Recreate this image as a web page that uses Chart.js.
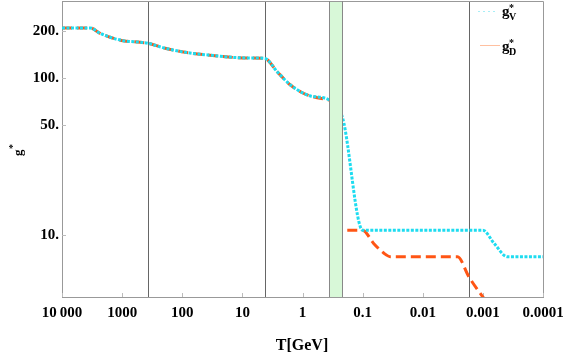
<!DOCTYPE html>
<html>
<head>
<meta charset="utf-8">
<script src="https://cdn.jsdelivr.net/npm/chart.js@4/dist/chart.umd.min.js"></script>
<style>
  html, body { margin: 0; padding: 0; background: #fff; }
  #wrap { width: 565px; height: 356px; }
</style>
</head>
<body>
<div id="wrap"><canvas id="myChart" width="565" height="356"></canvas></div>
<script>
// g*_V (cyan, dotted)
const tempV = [10000, 3415, 2327, 1585, 962, 501, 373, 192, 89, 26.1, 14.1, 7.36, 4.25, 2.64, 1.585, 1.08, 0.736, 0.36, 0.215, 0.1, 0.001, 0.00065, 0.00039, 0.0001];
const gV    = [210,   210,  194,  183,  174, 170, 167.6, 155.6, 146.6, 139, 136, 134.9, 134, 110.2, 90.6, 82.1, 77.1, 72.6, 55.7, 10.7, 10.7, 8.8, 7.23, 7.23];

// g*_D (orange, dashed) - null breaks the line across the transition
const tempD = [10000, 3415, 2327, 1585, 962, 501, 373, 192, 89, 26.1, 14.1, 7.36, 4.25, 2.64, 1.585, 1.08, 0.736, 0.36, 0.25, 0.18, 0.1, 0.0656, 0.0447, 0.0341, 0.00264, 0.00171, 0.00101, 0.0009];
const gD    = [210,   210,  194,  183,  174, 170, 167.6, 155.6, 146.6, 139, 136, 134.9, 134, 110.2, 90.6, 82.1, 77.1, 72.6, null, 10.7, 10.7, 8.8, 7.64, 7.23, 7.23, 5.38, 4.02, 3.8];

const xTicks = [10000, 1000, 100, 10, 1, 0.1, 0.01, 0.001, 0.0001];
const xTickLabels = ['10\u2009000', '1000', '100', '10', '1', '0.1', '0.01', '0.001', '0.0001'];
const yTicks = [10, 50, 100, 200];
const yTickLabels = ['10.', '50.', '100.', '200.'];

const vLines = [373, 4.25, 0.00171];
const band = [0.218, 0.359];

const serif = '"Liberation Serif", "DejaVu Serif", serif';

function pts(xs, ys) {
  return xs.map((x, i) => ({ x: x, y: ys[i] }));
}

const decor = {
  id: 'decor',
  beforeDatasetsDraw(chart) {
    const { ctx, chartArea: a, scales } = chart;
    ctx.save();
    ctx.strokeStyle = '#666';
    ctx.lineWidth = 1;
    vLines.forEach(t => {
      const x = Math.round(scales.x.getPixelForValue(t)) + 0.5;
      ctx.beginPath(); ctx.moveTo(x, a.top); ctx.lineTo(x, a.bottom); ctx.stroke();
    });
    // frame top/right
    ctx.strokeStyle = '#999';
    ctx.beginPath();
    ctx.moveTo(a.left, a.top + 0.5); ctx.lineTo(a.right + 0.5, a.top + 0.5); ctx.lineTo(a.right + 0.5, a.bottom);
    ctx.stroke();
    // inner tick marks
    ctx.strokeStyle = '#bbb';
    xTicks.forEach(t => {
      const x = Math.round(scales.x.getPixelForValue(t)) + 0.5;
      ctx.beginPath(); ctx.moveTo(x, a.bottom); ctx.lineTo(x, a.bottom - 4); ctx.stroke();
    });
    yTicks.forEach(v => {
      const y = Math.round(scales.y.getPixelForValue(v)) + 0.5;
      ctx.beginPath(); ctx.moveTo(a.left, y); ctx.lineTo(a.left + 4, y); ctx.stroke();
    });
    ctx.restore();
  },
  afterDatasetsDraw(chart) {
    const { ctx, chartArea: a, scales } = chart;
    ctx.save();
    const x1 = Math.round(scales.x.getPixelForValue(band[1])) + 0.5;
    const x2 = Math.round(scales.x.getPixelForValue(band[0])) + 0.5;
    ctx.fillStyle = '#d8f8d8';
    ctx.fillRect(x1, a.top + 1, x2 - x1, a.bottom - a.top - 1);
    ctx.strokeStyle = '#888';
    ctx.lineWidth = 1;
    [x1, x2].forEach(x => {
      ctx.beginPath(); ctx.moveTo(x, a.top); ctx.lineTo(x, a.bottom); ctx.stroke();
    });

    // legend
    ctx.lineWidth = 1;
    ctx.strokeStyle = '#a8eef6';
    ctx.setLineDash([2, 3]);
    ctx.beginPath(); ctx.moveTo(478, 11.5); ctx.lineTo(498, 11.5); ctx.stroke();
    ctx.setLineDash([]);
    ctx.strokeStyle = '#ffc0a0';
    ctx.beginPath(); ctx.moveTo(480, 45.5); ctx.lineTo(500, 45.5); ctx.stroke();

    ctx.fillStyle = '#000';
    ctx.textAlign = 'left';
    ctx.textBaseline = 'alphabetic';
    [['V', 16], ['D', 51]].forEach(([sub, base]) => {
      ctx.font = 'bold 15px ' + serif;
      ctx.fillText('g', 502, base);
      ctx.font = 'bold 10px ' + serif;
      ctx.fillText('*', 509, base - 5);
      ctx.fillText(sub, 509, base + 4);
    });

    // axis titles
    ctx.font = 'bold 16px ' + serif;
    ctx.textAlign = 'center';
    ctx.textBaseline = 'middle';
    ctx.fillText('T[GeV]', 302, 346);

    ctx.translate(19, 152);
    ctx.rotate(-Math.PI / 2);
    ctx.textAlign = 'left';
    ctx.textBaseline = 'alphabetic';
    ctx.font = 'bold 13px ' + serif;
    ctx.fillText('g', -4, 3);
    ctx.font = 'bold 10px ' + serif;
    ctx.fillText('*', 3, -3);
    ctx.restore();
  }
};

const data = {
  datasets: [{
    label: 'g*V',
    data: pts(tempV, gV),
    borderColor: 'rgb(30, 220, 240)',
    borderWidth: 3,
    borderDash: [3, 1.5],
    pointRadius: 0,
    fill: false,
    cubicInterpolationMode: 'monotone',
    clip: 0
  }, {
    label: 'g*D',
    data: pts(tempD, gD),
    borderColor: 'rgb(255, 85, 20)',
    borderWidth: 3,
    borderDash: [10, 5],
    pointRadius: 0,
    fill: false,
    cubicInterpolationMode: 'monotone',
    spanGaps: false,
    clip: 0
  }]
};

const config = {
  type: 'line',
  data: data,
  options: {
    responsive: false,
    animation: false,
    layout: { padding: { left: 0, right: 22, top: 1, bottom: 0 } },
    plugins: { legend: { display: false }, tooltip: { enabled: false } },
    scales: {
      x: {
        type: 'logarithmic',
        reverse: true,
        min: 0.0001,
        max: 10000,
        afterBuildTicks: s => { s.ticks = xTicks.map(v => ({ value: v })); },
        afterFit: s => { s.height = 59; s.paddingLeft = 0; s.paddingRight = 0; },
        grid: { drawOnChartArea: false, drawTicks: false },
        border: { display: true, color: '#999', width: 1 },
        ticks: {
          autoSkip: false,
          maxRotation: 0,
          padding: 7,
          color: '#000',
          font: { family: serif, size: 15, weight: 'bold' },
          callback: (v) => xTickLabels[xTicks.indexOf(v)]
        }
      },
      y: {
        type: 'logarithmic',
        min: 4.0,
        max: 312,
        afterBuildTicks: s => { s.ticks = yTicks.map(v => ({ value: v })); },
        afterFit: s => { s.width = 62; s.paddingTop = 0; s.paddingBottom = 0; },
        grid: { drawOnChartArea: false, drawTicks: false },
        border: { display: true, color: '#999', width: 1 },
        ticks: {
          padding: 3,
          color: '#000',
          font: { family: serif, size: 15, weight: 'bold' },
          callback: (v) => yTickLabels[yTicks.indexOf(v)]
        }
      }
    }
  },
  plugins: [decor]
};

const myChart = new Chart(document.getElementById('myChart'), config);
</script>
</body>
</html>
